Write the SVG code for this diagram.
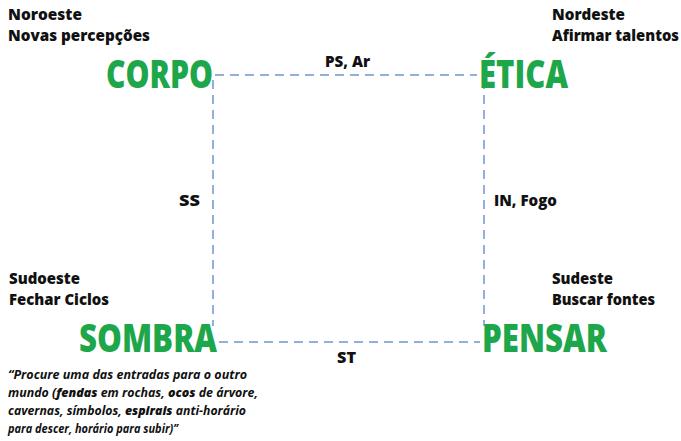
<svg xmlns="http://www.w3.org/2000/svg" width="681" height="441" viewBox="0 0 681 441">
<style>
.big{font-family:"Open Sans","Liberation Sans",sans-serif;font-weight:800;font-size:38px;fill:#1DA64A}
.lbl{font-family:"Open Sans","Liberation Sans",sans-serif;font-weight:800;font-size:15px;fill:#111}
.q{font-family:"Open Sans","Liberation Sans",sans-serif;font-style:italic;font-weight:700;font-size:12.5px;fill:#111}
.qb{font-weight:800}
.edge{stroke:#93B1D8;stroke-width:2;stroke-dasharray:9 6;fill:none}
</style>
<rect width="681" height="441" fill="#fff"/>
<g id="connectors">
<line class="edge" x1="215" y1="75" x2="477" y2="75"/>
<line class="edge" x1="213" y1="80" x2="213" y2="326"/>
<line class="edge" x1="484" y1="80" x2="484" y2="326"/>
<line class="edge" x1="219" y1="342" x2="480" y2="342"/>
<text class="lbl" x="325" y="67" textLength="45" lengthAdjust="spacingAndGlyphs">PS, Ar</text>
<text class="lbl" x="179" y="206" textLength="21" lengthAdjust="spacingAndGlyphs">SS</text>
<text class="lbl" x="494" y="206" textLength="63" lengthAdjust="spacingAndGlyphs">IN, Fogo</text>
<text class="lbl" x="337" y="363" textLength="19" lengthAdjust="spacingAndGlyphs">ST</text>
</g>
<g id="noroeste">
<text class="lbl" x="8" y="20" textLength="74" lengthAdjust="spacingAndGlyphs">Noroeste</text>
<text class="lbl" x="8" y="41" textLength="142" lengthAdjust="spacingAndGlyphs">Novas percepções</text>
</g>
<g id="corpo">
<text class="big" x="106" y="88" textLength="107" lengthAdjust="spacingAndGlyphs">CORPO</text>
</g>
<g id="nordeste">
<text class="lbl" x="552" y="20" textLength="73" lengthAdjust="spacingAndGlyphs">Nordeste</text>
<text class="lbl" x="552" y="41" textLength="127" lengthAdjust="spacingAndGlyphs">Afirmar talentos</text>
</g>
<g id="etica">
<text class="big" x="479" y="88" textLength="89" lengthAdjust="spacingAndGlyphs">ÉTICA</text>
</g>
<g id="sudoeste">
<text class="lbl" x="9" y="284" textLength="71" lengthAdjust="spacingAndGlyphs">Sudoeste</text>
<text class="lbl" x="9" y="305" textLength="100" lengthAdjust="spacingAndGlyphs">Fechar Ciclos</text>
</g>
<g id="sombra">
<text class="big" x="79" y="352" textLength="138" lengthAdjust="spacingAndGlyphs">SOMBRA</text>
<text class="q" x="8" y="379" textLength="239" lengthAdjust="spacingAndGlyphs">“Procure uma das entradas para o outro</text>
<text class="q" x="8" y="397" textLength="250" lengthAdjust="spacingAndGlyphs">mundo (<tspan class="qb">fendas</tspan> em rochas, <tspan class="qb">ocos</tspan> de árvore,</text>
<text class="q" x="8" y="415" textLength="238" lengthAdjust="spacingAndGlyphs">cavernas, símbolos, <tspan class="qb">espirais</tspan> anti-horário</text>
<text class="q" x="8" y="433" textLength="170" lengthAdjust="spacingAndGlyphs">para descer, horário para subir)”</text>
</g>
<g id="sudeste">
<text class="lbl" x="552" y="284" textLength="61" lengthAdjust="spacingAndGlyphs">Sudeste</text>
<text class="lbl" x="552" y="305" textLength="103" lengthAdjust="spacingAndGlyphs">Buscar fontes</text>
</g>
<g id="pensar">
<text class="big" x="482" y="352" textLength="125" lengthAdjust="spacingAndGlyphs">PENSAR</text>
</g>
</svg>
